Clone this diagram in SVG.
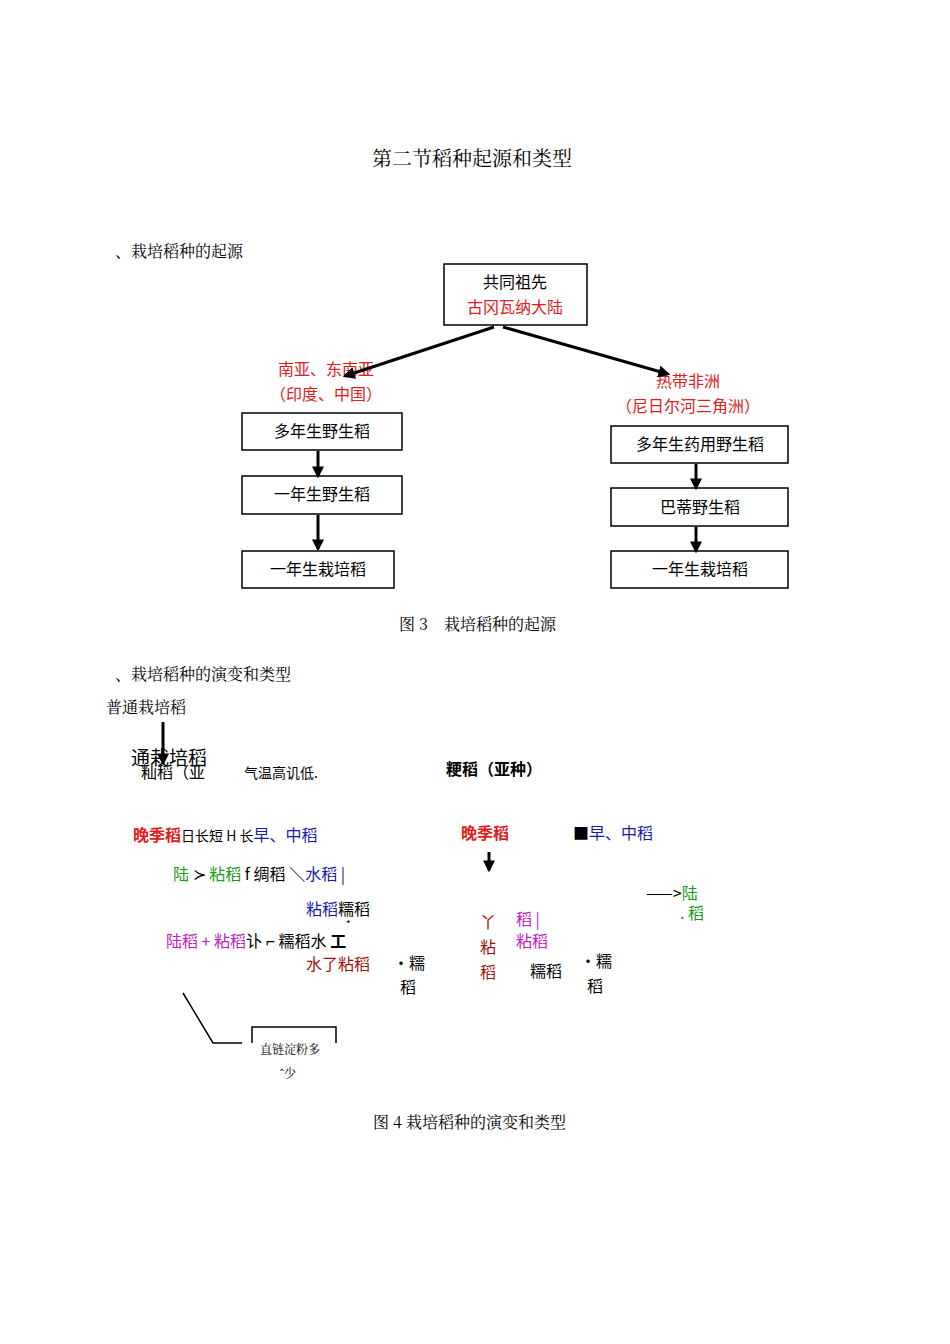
<svg xmlns="http://www.w3.org/2000/svg" width="950" height="1344" viewBox="0 0 950 1344" font-size="16">
<defs>
<style>
text{font-family:"Noto Sans CJK SC","Noto Sans",sans-serif}
.s{font-family:"Noto Serif CJK SC","Noto Sans CJK SC",serif}
.b{fill:none;stroke:#000;stroke-width:1.5}
.r{fill:#e02020}.bl{fill:#1a1aa8}.g{fill:#1a9a1a}.m{fill:#c020c0}.dr{fill:#a01010}
.c{stroke:#000;stroke-width:3;fill:none}
</style>
<marker id="ah" viewBox="0 0 10 10" refX="8" refY="5" markerWidth="4" markerHeight="4" orient="auto"><path d="M0,0L10,5L0,10z"/></marker>
</defs>
<rect width="950" height="1344" fill="#fff"/>
<text x="472" y="166" font-size="20" text-anchor="middle" class="s">第二节稻种起源和类型</text>
<text x="115" y="257" class="s">、栽培稻种的起源</text>
<g id="n0"><rect x="444" y="264" width="143" height="61" class="b"/><text x="515" y="288" text-anchor="middle">共同祖先</text><text x="515" y="313" text-anchor="middle" class="r">古冈瓦纳大陆</text></g>
<g id="l1"><text x="326" y="375" text-anchor="middle" class="r">南亚、东南亚</text><text x="326" y="400" text-anchor="middle" class="r">（印度、中国）</text></g>
<g id="r1"><text x="688" y="387" text-anchor="middle" class="r">热带非洲</text><text x="688" y="412" text-anchor="middle" class="r">（尼日尔河三角洲）</text></g>
<g id="a1"><rect x="242" y="413" width="160" height="37" class="b"/><text x="322" y="437" text-anchor="middle">多年生野生稻</text></g>
<g id="a2"><rect x="242" y="476" width="160" height="38" class="b"/><text x="322" y="500" text-anchor="middle">一年生野生稻</text></g>
<g id="a3"><rect x="242" y="551" width="152" height="37" class="b"/><text x="318" y="575" text-anchor="middle">一年生栽培稻</text></g>
<g id="b1"><rect x="611" y="426" width="177" height="37" class="b"/><text x="700" y="450" text-anchor="middle">多年生药用野生稻</text></g>
<g id="b2"><rect x="611" y="488" width="177" height="38" class="b"/><text x="700" y="513" text-anchor="middle">巴蒂野生稻</text></g>
<g id="b3"><rect x="611" y="551" width="177" height="37" class="b"/><text x="700" y="575" text-anchor="middle">一年生栽培稻</text></g>
<g id="connectors">
<line x1="494" y1="327" x2="345" y2="376" class="c" marker-end="url(#ah)"/>
<line x1="503" y1="327" x2="668" y2="374" class="c" marker-end="url(#ah)"/>
<line x1="318" y1="451" x2="318" y2="476" class="c" marker-end="url(#ah)"/>
<line x1="318" y1="515" x2="318" y2="549" class="c" marker-end="url(#ah)"/>
<line x1="696" y1="464" x2="696" y2="488" class="c" marker-end="url(#ah)"/>
<line x1="696" y1="527" x2="696" y2="551" class="c" marker-end="url(#ah)"/>
<line x1="163" y1="722" x2="163" y2="763" class="c" marker-end="url(#ah)"/>
<line x1="489" y1="852" x2="489" y2="870" class="c" marker-end="url(#ah)"/>
<polyline points="183,993 213,1043 242,1043" fill="none" stroke="#000" stroke-width="1.5"/>
<polyline points="252,1043 252,1027 336,1027 336,1043" fill="none" stroke="#000" stroke-width="1.5"/>
</g>
<text x="399" y="630" class="s">图 3　栽培稻种的起源</text>
<text x="115" y="680" class="s">、栽培稻种的演变和类型</text>
<text x="106" y="713" class="s">普通栽培稻</text>
<text x="131" y="765" font-size="19">通栽培稻</text>
<text x="141" y="778">籼稻（亚</text>
<text x="244" y="778" font-size="14">气温高讥低.</text>
<text x="446" y="775" font-weight="bold">粳稻（亚种）</text>
<text x="133" y="841"><tspan class="r" font-weight="bold">晚季稻</tspan><tspan font-size="14">日长短 H 长</tspan><tspan class="bl">早、中稻</tspan></text>
<text x="173" y="880"><tspan class="g">陆</tspan> ≻ <tspan class="g">粘稻</tspan> f 绸稻 ＼<tspan class="bl">水稻</tspan> <tspan class="bl">|</tspan></text>
<text x="306" y="915"><tspan class="bl">粘稻</tspan>糯稻</text>
<text x="166" y="947"><tspan class="m">陆稻 + 粘稻</tspan>讣 ⌐ 糯稻水 <tspan font-weight="bold">工</tspan></text>
<text x="346" y="928" font-size="10">*</text>
<text x="306" y="970" class="dr">水了粘稻</text>
<text x="393" y="969">•糯</text><text x="400" y="993">稻</text>
<text x="260" y="1054" font-size="12" class="s">直链淀粉多</text>
<text x="280" y="1078" font-size="12" class="s">ˆ少</text>
<text x="461" y="839" class="r" font-weight="bold">晚季稻</text>
<text x="573" y="839"><tspan>■</tspan><tspan class="bl">早、中稻</tspan></text>
<text x="646" y="899">——&gt;<tspan class="g">陆</tspan></text>
<text x="680" y="919" class="g">. 稻</text>
<text x="480" y="928" class="dr">丫</text><text x="480" y="953" class="dr">粘</text><text x="480" y="978" class="dr">稻</text>
<text x="516" y="925" class="m">稻 |</text><text x="516" y="947" class="m">粘稻</text>
<text x="530" y="977">糯稻</text>
<text x="580" y="967">•糯</text><text x="587" y="992">稻</text>
<text x="373" y="1128" class="s">图 4 栽培稻种的演变和类型</text>
</svg>
